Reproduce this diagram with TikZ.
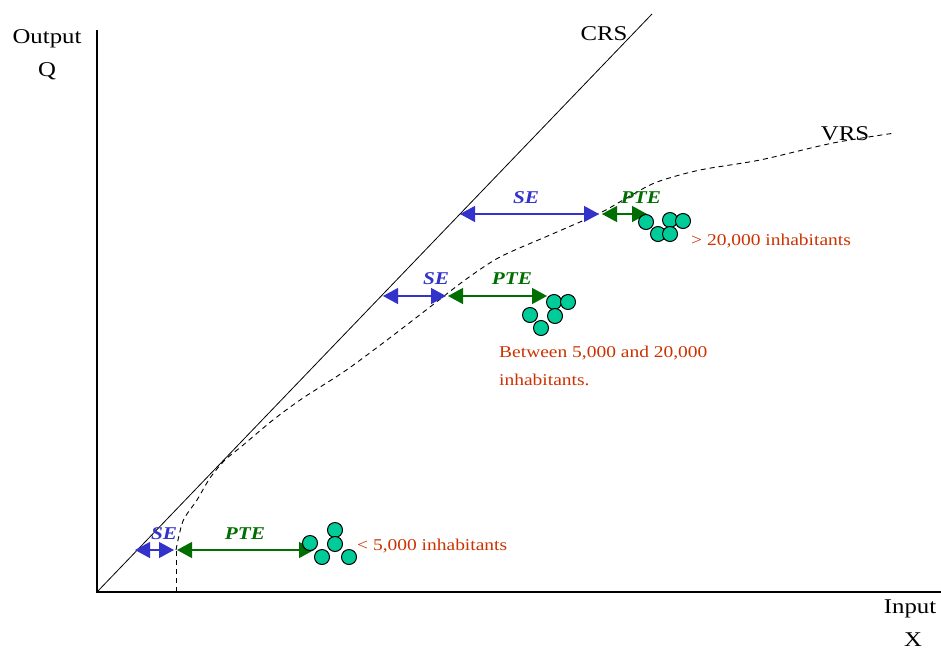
\documentclass[tikz,border=0pt]{standalone}
\usepackage{fontspec}
\setmainfont{Liberation Serif}[FakeStretch=1.18]
\usetikzlibrary{arrows.meta}
\definecolor{seblue}{RGB}{51,51,204}
\definecolor{ptegreen}{RGB}{0,110,0}
\definecolor{txtred}{RGB}{204,51,0}
\definecolor{dotfill}{RGB}{0,204,153}
\begin{document}
\begin{tikzpicture}[x=1pt,y=-1pt,
  biglab/.style={inner sep=0pt,font=\fontsize{21}{25}\selectfont},
  smalllab/.style={inner sep=0pt,text=txtred,font=\fontsize{16.5}{28}\selectfont},
  effse/.style={inner sep=0pt,text=seblue,font=\fontsize{18}{20}\selectfont\bfseries\itshape},
  effpte/.style={inner sep=0pt,text=ptegreen,font=\fontsize{18}{20}\selectfont\bfseries\itshape},
  searrow/.style={draw=seblue,line width=1.3pt,{Triangle[length=15pt,width=16pt]}-{Triangle[length=15pt,width=16pt]},fill=seblue},
  ptearrow/.style={draw=ptegreen,line width=1.3pt,{Triangle[length=15pt,width=16pt]}-{Triangle[length=15pt,width=16pt]},fill=ptegreen},
  dot/.style={circle,draw=black,line width=1pt,fill=dotfill,minimum size=15pt,inner sep=0pt},
  axis/.style={line width=1.4pt,black},
  vrs/.style={line width=0.9pt,dash pattern=on 5pt off 4pt}]
\useasboundingbox (0,0) rectangle (941,653);
\fill[white] (0,0) rectangle (941,653);

% axes
\coordinate (O) at (97,592);
\coordinate (ytop) at (97,30);
\coordinate (xend) at (941,592);
\draw[axis] (ytop) -- (O) -- (xend);

% CRS line
\coordinate (crsend) at (652,14);
\draw[line width=0.8pt] (O) -- (crsend);

% VRS curve
\coordinate (vrsbase) at (176,592);
\coordinate (vrskink) at (176,550);
\draw[vrs] (vrsbase) -- (vrskink);
\draw[vrs] plot[smooth,tension=0.5] coordinates {(176,550) (183,521) (197,500) (210,478) (225,460) (242,446) (273,420) (303,398) (345,371) (387,340) (430,307) (465,280) (500,257) (550,235) (600,213) (630,196) (657,182) (700,170) (760,160) (833,143) (895,133)};

% axis labels
\node[biglab,anchor=base] (outlab) at (47,43) {Output};
\node[biglab,anchor=base] (qlab) at (47,76) {Q};
\node[biglab,anchor=base] (inlab) at (910,613) {Input};
\node[biglab,anchor=base] (xlab) at (913,646) {X};
\node[biglab,anchor=base] (crslab) at (604,40) {CRS};
\node[biglab,anchor=base] (vrslab) at (845,140) {VRS};

% bottom group
\coordinate (s1a) at (135,550);
\coordinate (s1b) at (174,550);
\coordinate (p1a) at (177,550);
\coordinate (p1b) at (314,550);
\draw[searrow] (s1a) -- (s1b);
\draw[ptearrow] (p1a) -- (p1b);
\node[effse] (se1) at (164,534) {SE};
\node[effpte] (pte1) at (245,534) {PTE};
\node[dot] (d1a) at (310,543) {};
\node[dot] (d1b) at (335,530) {};
\node[dot] (d1c) at (335,544) {};
\node[dot] (d1d) at (322,557) {};
\node[dot] (d1e) at (349,557) {};
\node[smalllab,anchor=base west] (t1) at (357,550) {< 5,000 inhabitants};

% middle group
\coordinate (s2a) at (383,296);
\coordinate (s2b) at (446,296);
\coordinate (p2a) at (448,296);
\coordinate (p2b) at (547,296);
\draw[searrow] (s2a) -- (s2b);
\draw[ptearrow] (p2a) -- (p2b);
\node[effse] (se2) at (436,279) {SE};
\node[effpte] (pte2) at (512,279) {PTE};
\node[dot] (d2a) at (554,302) {};
\node[dot] (d2b) at (568,302) {};
\node[dot] (d2c) at (555,316) {};
\node[dot] (d2d) at (530,315) {};
\node[dot] (d2e) at (541,328) {};
\node[smalllab,anchor=north west,align=left] (t2) at (499,346) {Between 5,000 and 20,000\\inhabitants.};

% top group
\coordinate (s3a) at (460,214);
\coordinate (s3b) at (599,214);
\coordinate (p3a) at (602,214);
\coordinate (p3b) at (647,214);
\draw[searrow] (s3a) -- (s3b);
\draw[ptearrow] (p3a) -- (p3b);
\node[effse] (se3) at (526,198) {SE};
\node[effpte] (pte3) at (641,198) {PTE};
\node[dot] (d3a) at (646,222) {};
\node[dot] (d3b) at (670,220) {};
\node[dot] (d3c) at (683,221) {};
\node[dot] (d3d) at (658,234) {};
\node[dot] (d3e) at (670,234) {};
\node[smalllab,anchor=base west] (t3) at (691,245) {> 20,000 inhabitants};
\end{tikzpicture}
\end{document}
